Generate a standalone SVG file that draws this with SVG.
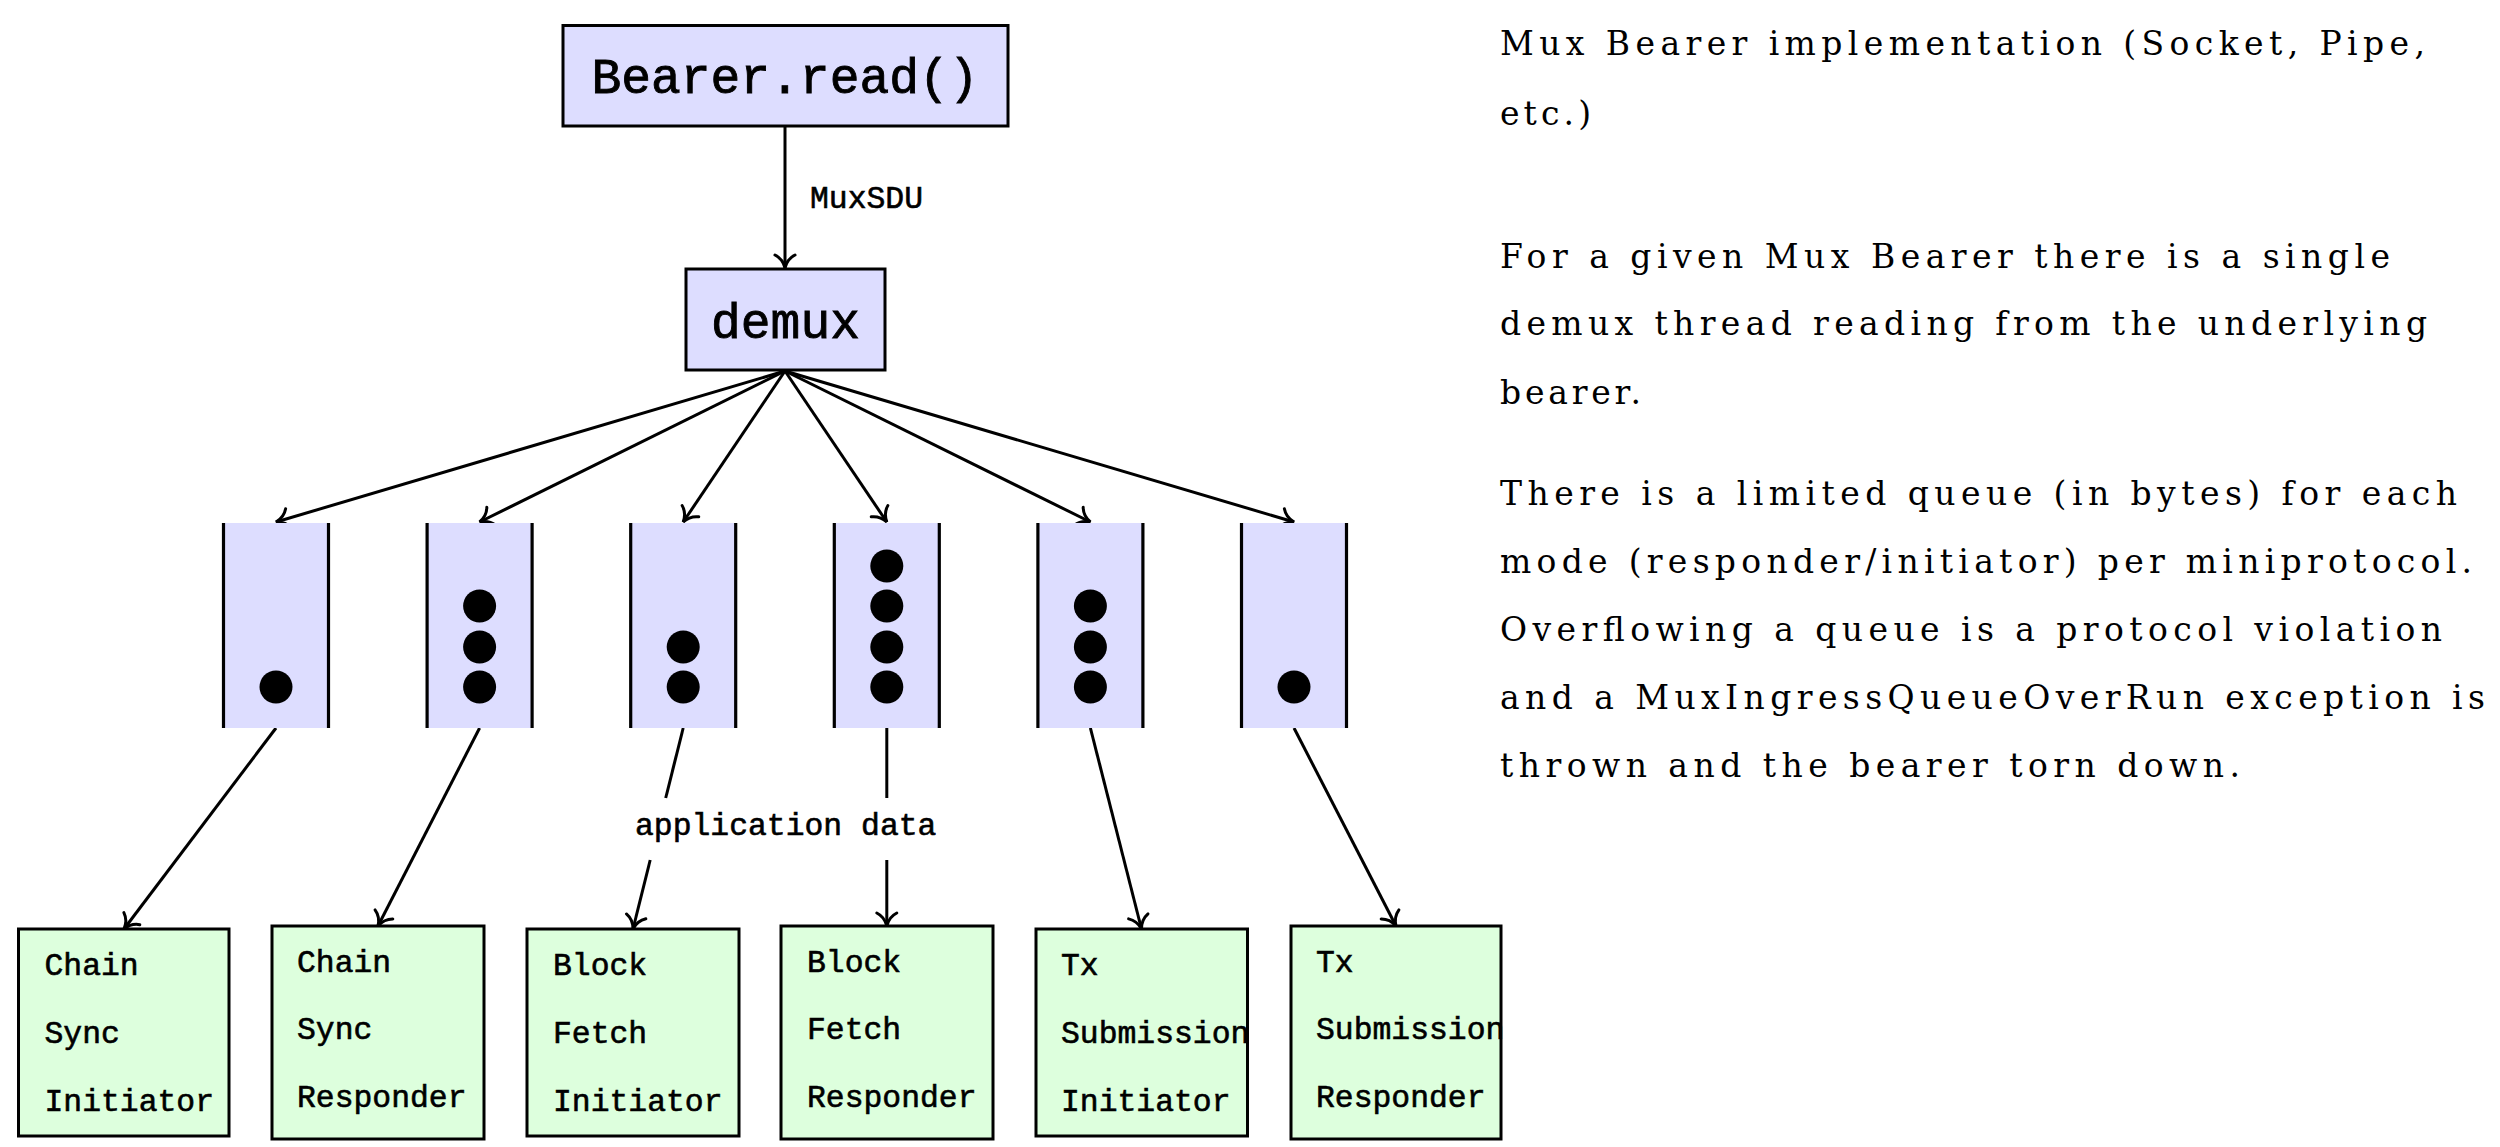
<svg xmlns="http://www.w3.org/2000/svg" width="2500" height="1147" viewBox="0 0 2500 1147">
<defs>
<style>
.blue{fill:#DDDDFF;stroke:#000;stroke-width:3}
.green{fill:#DDFFDD;stroke:#000;stroke-width:3}
.qfill{fill:#DDDDFF;stroke:none}
.qside{stroke:#000;stroke-width:3.2}
.dot{fill:#000}
.tt{font-family:"Liberation Mono","DejaVu Sans Mono",monospace;fill:#000;stroke:#000}
.big{font-size:49.6px;stroke-width:0.9}
.small{font-size:31.4px;stroke-width:0.6}
.rm{font-family:"DejaVu Serif","Liberation Serif",serif;font-size:33px;fill:#000}
.edge{stroke:#000;stroke-width:3;fill:none;marker-end:url(#arr)}
.plain{stroke:#000;stroke-width:3;fill:none}
</style>
<marker id="arr" markerUnits="userSpaceOnUse" markerWidth="34" markerHeight="34" viewBox="-17 -17 34 34" refX="0" refY="0" orient="auto" overflow="visible">
<path d="M -13,-10 C -10,-4 -4,-1 0,0 C -4,1 -10,4 -13,10" fill="none" stroke="#000" stroke-width="3" stroke-linecap="round"/>
</marker>
</defs>
<rect width="2500" height="1147" fill="#fff"/>

<g id="connectors">
<line class="edge" x1="785" y1="126" x2="785" y2="268"/>
<line class="edge" x1="785" y1="371" x2="276" y2="522"/>
<line class="edge" x1="785" y1="371" x2="479.6" y2="522"/>
<line class="edge" x1="785" y1="371" x2="683.2" y2="522"/>
<line class="edge" x1="785" y1="371" x2="886.8" y2="522"/>
<line class="edge" x1="785" y1="371" x2="1090.4" y2="522"/>
<line class="edge" x1="785" y1="371" x2="1294" y2="522"/>
<line class="edge" x1="276" y1="728" x2="124" y2="929"/>
<line class="edge" x1="479.6" y1="728" x2="378" y2="926"/>
<line class="plain" x1="683.2" y1="728" x2="665.7" y2="798"/>
<line class="edge" x1="650.2" y1="860" x2="633" y2="929"/>
<line class="plain" x1="886.8" y1="728" x2="886.8" y2="798"/>
<line class="edge" x1="886.8" y1="860" x2="886.8" y2="926"/>
<line class="edge" x1="1090.4" y1="728" x2="1141.5" y2="929"/>
<line class="edge" x1="1294" y1="728" x2="1396" y2="926"/>
<text class="tt small" x="810" y="208">MuxSDU</text>
<text class="tt small" x="635" y="835">application data</text>
</g>

<g id="bearer-read">
<rect class="blue" x="563" y="25.5" width="445" height="100.5"/>
<text class="tt big" x="785" y="93" text-anchor="middle">Bearer.read()</text>
</g>

<g id="demux">
<rect class="blue" x="686" y="269" width="199" height="101"/>
<text class="tt big" x="785.5" y="338" text-anchor="middle">demux</text>
</g>

<g id="queue1">
<rect class="qfill" x="223.5" y="523" width="105" height="205"/>
<line class="qside" x1="223.5" y1="523" x2="223.5" y2="728"/>
<line class="qside" x1="328.5" y1="523" x2="328.5" y2="728"/>
<circle class="dot" cx="276" cy="687" r="16.5"/>
</g>
<g id="queue2">
<rect class="qfill" x="427.1" y="523" width="105" height="205"/>
<line class="qside" x1="427.1" y1="523" x2="427.1" y2="728"/>
<line class="qside" x1="532.1" y1="523" x2="532.1" y2="728"/>
<circle class="dot" cx="479.6" cy="687" r="16.5"/>
<circle class="dot" cx="479.6" cy="647" r="16.5"/>
<circle class="dot" cx="479.6" cy="606" r="16.5"/>
</g>
<g id="queue3">
<rect class="qfill" x="630.7" y="523" width="105" height="205"/>
<line class="qside" x1="630.7" y1="523" x2="630.7" y2="728"/>
<line class="qside" x1="735.7" y1="523" x2="735.7" y2="728"/>
<circle class="dot" cx="683.2" cy="687" r="16.5"/>
<circle class="dot" cx="683.2" cy="647" r="16.5"/>
</g>
<g id="queue4">
<rect class="qfill" x="834.3" y="523" width="105" height="205"/>
<line class="qside" x1="834.3" y1="523" x2="834.3" y2="728"/>
<line class="qside" x1="939.3" y1="523" x2="939.3" y2="728"/>
<circle class="dot" cx="886.8" cy="687" r="16.5"/>
<circle class="dot" cx="886.8" cy="647" r="16.5"/>
<circle class="dot" cx="886.8" cy="606" r="16.5"/>
<circle class="dot" cx="886.8" cy="566" r="16.5"/>
</g>
<g id="queue5">
<rect class="qfill" x="1037.9" y="523" width="105" height="205"/>
<line class="qside" x1="1037.9" y1="523" x2="1037.9" y2="728"/>
<line class="qside" x1="1142.9" y1="523" x2="1142.9" y2="728"/>
<circle class="dot" cx="1090.4" cy="687" r="16.5"/>
<circle class="dot" cx="1090.4" cy="647" r="16.5"/>
<circle class="dot" cx="1090.4" cy="606" r="16.5"/>
</g>
<g id="queue6">
<rect class="qfill" x="1241.5" y="523" width="105" height="205"/>
<line class="qside" x1="1241.5" y1="523" x2="1241.5" y2="728"/>
<line class="qside" x1="1346.5" y1="523" x2="1346.5" y2="728"/>
<circle class="dot" cx="1294" cy="687" r="16.5"/>
</g>

<g id="chain-sync-initiator">
<rect class="green" x="18.5" y="929" width="210.5" height="207"/>
<text class="tt small" x="44.5" y="975">Chain</text>
<text class="tt small" x="44.5" y="1043">Sync</text>
<text class="tt small" x="44.5" y="1111">Initiator</text>
</g>
<g id="chain-sync-responder">
<rect class="green" x="272" y="926" width="212" height="213"/>
<text class="tt small" x="297" y="972">Chain</text>
<text class="tt small" x="297" y="1039">Sync</text>
<text class="tt small" x="297" y="1107">Responder</text>
</g>
<g id="block-fetch-initiator">
<rect class="green" x="527" y="929" width="212" height="207"/>
<text class="tt small" x="553" y="975">Block</text>
<text class="tt small" x="553" y="1043">Fetch</text>
<text class="tt small" x="553" y="1111">Initiator</text>
</g>
<g id="block-fetch-responder">
<rect class="green" x="781" y="926" width="212" height="213"/>
<text class="tt small" x="807" y="972">Block</text>
<text class="tt small" x="807" y="1039">Fetch</text>
<text class="tt small" x="807" y="1107">Responder</text>
</g>
<g id="tx-submission-initiator">
<rect class="green" x="1036" y="929" width="211.5" height="207"/>
<text class="tt small" x="1061" y="975">Tx</text>
<text class="tt small" x="1061" y="1043">Submission</text>
<text class="tt small" x="1061" y="1111">Initiator</text>
</g>
<g id="tx-submission-responder">
<rect class="green" x="1291" y="926" width="210" height="213"/>
<text class="tt small" x="1316" y="972">Tx</text>
<text class="tt small" x="1316" y="1039">Submission</text>
<text class="tt small" x="1316" y="1107">Responder</text>
</g>

<g id="notes">
<text class="rm" x="1500" y="55" textLength="925" lengthAdjust="spacing">Mux Bearer implementation (Socket, Pipe,</text>
<text class="rm" x="1500" y="125" textLength="91" lengthAdjust="spacing">etc.)</text>
<text class="rm" x="1500" y="268" textLength="890" lengthAdjust="spacing">For a given Mux Bearer there is a single</text>
<text class="rm" x="1500" y="335" textLength="927" lengthAdjust="spacing">demux thread reading from the underlying</text>
<text class="rm" x="1500" y="404" textLength="141" lengthAdjust="spacing">bearer.</text>
<text class="rm" x="1500" y="505" textLength="957" lengthAdjust="spacing">There is a limited queue (in bytes) for each</text>
<text class="rm" x="1500" y="573" textLength="972" lengthAdjust="spacing">mode (responder/initiator) per miniprotocol.</text>
<text class="rm" x="1500" y="641" textLength="942" lengthAdjust="spacing">Overflowing a queue is a protocol violation</text>
<text class="rm" x="1500" y="709" textLength="985" lengthAdjust="spacing">and a MuxIngressQueueOverRun exception is</text>
<text class="rm" x="1500" y="777" textLength="740" lengthAdjust="spacing">thrown and the bearer torn down.</text>
</g>
</svg>
